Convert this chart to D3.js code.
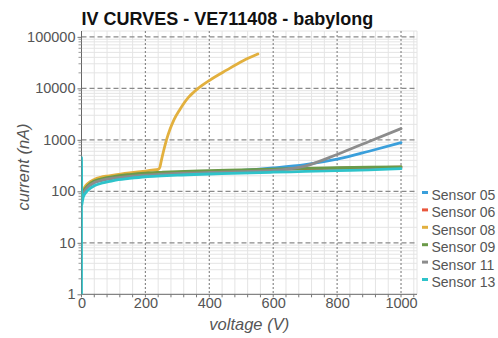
<!DOCTYPE html>
<html>
<head>
<meta charset="utf-8">
<script src="https://cdn.jsdelivr.net/npm/d3@7/dist/d3.min.js"></script>
<style>
  html, body { margin: 0; padding: 0; background: #fff; }
  svg { display: block; font-family: "Liberation Sans", Arial, sans-serif; }
</style>
</head>
<body>
<svg id="chart" width="498" height="338"></svg>
<script>
// IV sweep readings per sensor (voltage in V, current in nA)
const sensorNames = ["Sensor 05", "Sensor 06", "Sensor 08", "Sensor 09", "Sensor 11", "Sensor 13"];
const sensorColors = ["#3a9fdb", "#e9563c", "#e2b03e", "#6b9a49", "#8c8c8c", "#2ec3ca"];

const volts = [1, 5, 10, 20, 40, 60, 80, 100, 150, 200, 250, 300, 400, 500, 600, 700, 800, 900, 1000];
const current05 = [65, 88, 102, 122, 148, 162, 172, 182, 198, 210, 218, 226, 238, 255, 285, 330, 420, 600, 880];
const current06 = [68, 90, 105, 125, 152, 167, 178, 188, 205, 218, 226, 233, 243, 253, 263, 272, 280, 288, 295];
const current09 = [72, 94, 110, 130, 158, 173, 184, 194, 212, 226, 234, 241, 251, 261, 270, 279, 287, 294, 300];
const current11 = [66, 88, 102, 122, 148, 162, 172, 180, 196, 207, 215, 222, 232, 242, 255, 310, 520, 930, 1650];
const volts13 = [0, 0, 1, 5, 10, 20, 40, 60, 80, 100, 150, 200, 250, 300, 400, 500, 600, 700, 800, 900, 1000];
const current13 = [1, 450, 55, 75, 88, 105, 128, 142, 152, 162, 178, 192, 200, 207, 217, 226, 235, 243, 252, 262, 275];
const volts08 = [1, 5, 10, 20, 40, 60, 80, 100, 150, 200, 220, 240, 245, 250, 258, 266, 277, 290, 308, 334, 350, 365, 402, 454, 506, 552];
const current08 = [80, 102, 120, 142, 170, 187, 198, 207, 228, 248, 257, 268, 290, 400, 650, 1000, 1600, 2500, 3900, 6600, 8300, 10000, 14500, 22600, 34400, 46400];

const xTickValues = [0, 200, 400, 600, 800, 1000];
const yTickValues = [1, 10, 100, 1000, 10000, 100000];

const series = [
  { name: sensorNames[0], color: sensorColors[0], v: volts, i: current05 },
  { name: sensorNames[1], color: sensorColors[1], v: volts, i: current06 },
  { name: sensorNames[2], color: sensorColors[2], v: volts08, i: current08 },
  { name: sensorNames[3], color: sensorColors[3], v: volts, i: current09 },
  { name: sensorNames[4], color: sensorColors[4], v: volts, i: current11 },
  { name: sensorNames[5], color: sensorColors[5], v: volts13, i: current13 }
];

const svg = d3.select("#chart");
const plot = { left: 81.5, right: 417, top: 31, bottom: 294.3 };

const x = d3.scaleLinear().domain([0, 1050]).range([plot.left, plot.right]);
const y = d3.scaleLog().domain([1, 130000]).range([plot.bottom, plot.top]);

// minor grid
const minorX = d3.range(40, 1050, 40).filter(v => v % 200 !== 0);
const minorY = [];
[1, 10, 100, 1000, 10000, 100000].forEach(d => {
  for (let k = 2; k <= 9; k++) { if (d * k <= 130000) minorY.push(d * k); }
});
const grid = svg.append("g");
grid.selectAll("line.mx").data(minorX).join("line")
  .attr("x1", d => x(d)).attr("x2", d => x(d))
  .attr("y1", plot.top).attr("y2", plot.bottom)
  .attr("stroke", "#e4e4e4").attr("stroke-width", 1);
grid.selectAll("line.my").data(minorY).join("line")
  .attr("x1", plot.left).attr("x2", plot.right)
  .attr("y1", d => y(d)).attr("y2", d => y(d))
  .attr("stroke", "#e4e4e4").attr("stroke-width", 1);
grid.append("line")
  .attr("x1", plot.left).attr("x2", plot.right)
  .attr("y1", plot.top).attr("y2", plot.top)
  .attr("stroke", "#e4e4e4");
grid.append("line")
  .attr("x1", plot.right).attr("x2", plot.right)
  .attr("y1", plot.top).attr("y2", plot.bottom)
  .attr("stroke", "#e4e4e4");

// major grid
grid.selectAll("line.gx").data(xTickValues.slice(1)).join("line")
  .attr("x1", d => x(d)).attr("x2", d => x(d))
  .attr("y1", plot.top).attr("y2", plot.bottom)
  .attr("stroke", "#8a8a8a").attr("stroke-width", 1.2).attr("stroke-dasharray", "2,2");
grid.selectAll("line.gy").data(yTickValues.slice(1)).join("line")
  .attr("x1", plot.left).attr("x2", plot.right)
  .attr("y1", d => y(d)).attr("y2", d => y(d))
  .attr("stroke", "#8a8a8a").attr("stroke-width", 1.2).attr("stroke-dasharray", "5,3");

// axes
const xAxis = d3.axisBottom(x).tickValues(xTickValues).tickSize(0).tickPadding(3).tickFormat(d3.format("d"));
const yAxis = d3.axisLeft(y).tickValues(yTickValues).tickSize(4).tickPadding(2).tickFormat(d3.format("d"));

const gx = svg.append("g").attr("transform", `translate(0,${plot.bottom})`).call(xAxis);
gx.select(".domain").attr("stroke", "#666").attr("d", `M${plot.left},0H${plot.right}`);
gx.selectAll("text").attr("fill", "#555").attr("font-size", "14.5px");
gx.selectAll(".minor").data(d3.range(0, 1050, 40)).join("line").attr("class", "minor")
  .attr("x1", d => x(d)).attr("x2", d => x(d)).attr("y1", 0).attr("y2", 3)
  .attr("stroke", "#777");

const gy = svg.append("g").attr("transform", `translate(${plot.left},0)`).call(yAxis);
gy.select(".domain").attr("stroke", "#666").attr("d", `M0,${plot.top}V${plot.bottom}`);
gy.selectAll(".tick line").attr("stroke", "#777");
gy.selectAll("text").attr("fill", "#555").attr("font-size", "14.5px");
gy.selectAll(".minor").data(minorY).join("line").attr("class", "minor")
  .attr("x1", -3).attr("x2", 0).attr("y1", d => y(d)).attr("y2", d => y(d))
  .attr("stroke", "#999");

// curves
svg.append("clipPath").attr("id", "clip").append("rect")
  .attr("x", plot.left).attr("y", plot.top)
  .attr("width", plot.right - plot.left).attr("height", plot.bottom - plot.top);

const line = d3.line().x(d => x(d[0])).y(d => y(d[1])).curve(d3.curveMonotoneX);
const lineStraight = d3.line().x(d => x(d[0])).y(d => y(d[1]));
const curves = svg.append("g").attr("clip-path", "url(#clip)");
series.forEach(s => {
  const pts = s.v.map((v, k) => [v, s.i[k]]);
  curves.append("path")
    .attr("d", s.name === "Sensor 13" ? lineStraight(pts.slice(0, 3)) + line(pts.slice(2)).replace(/^M/, "L") : line(pts))
    .attr("fill", "none").attr("stroke", s.color)
    .attr("stroke-width", 2.8).attr("stroke-linejoin", "round").attr("stroke-linecap", "round");
});

// title and axis titles
svg.append("text").attr("x", 81.5).attr("y", 25)
  .attr("font-size", "18px").attr("font-weight", "bold").attr("fill", "#111")
  .text("IV CURVES - VE711408 - babylong");
svg.append("text").attr("x", (plot.left + plot.right) / 2).attr("y", 330)
  .attr("text-anchor", "middle").attr("font-size", "16.5px").attr("font-style", "italic").attr("fill", "#555")
  .text("voltage (V)");
svg.append("text").attr("transform", "translate(29,167) rotate(-90)")
  .attr("text-anchor", "middle").attr("font-size", "16.5px").attr("font-style", "italic").attr("fill", "#555")
  .text("current (nA)");

// legend
const legend = svg.append("g").attr("transform", "translate(422,195)");
series.forEach((s, k) => {
  const g = legend.append("g").attr("transform", `translate(0,${k * 17.4})`);
  g.append("line").attr("x1", 0).attr("x2", 6).attr("y1", -2.5).attr("y2", -2.5)
    .attr("stroke", s.color).attr("stroke-width", 3);
  g.append("text").attr("x", 9.5).attr("y", 5).attr("font-size", "14px").attr("fill", "#555").text(s.name);
});
</script>
</body>
</html>
